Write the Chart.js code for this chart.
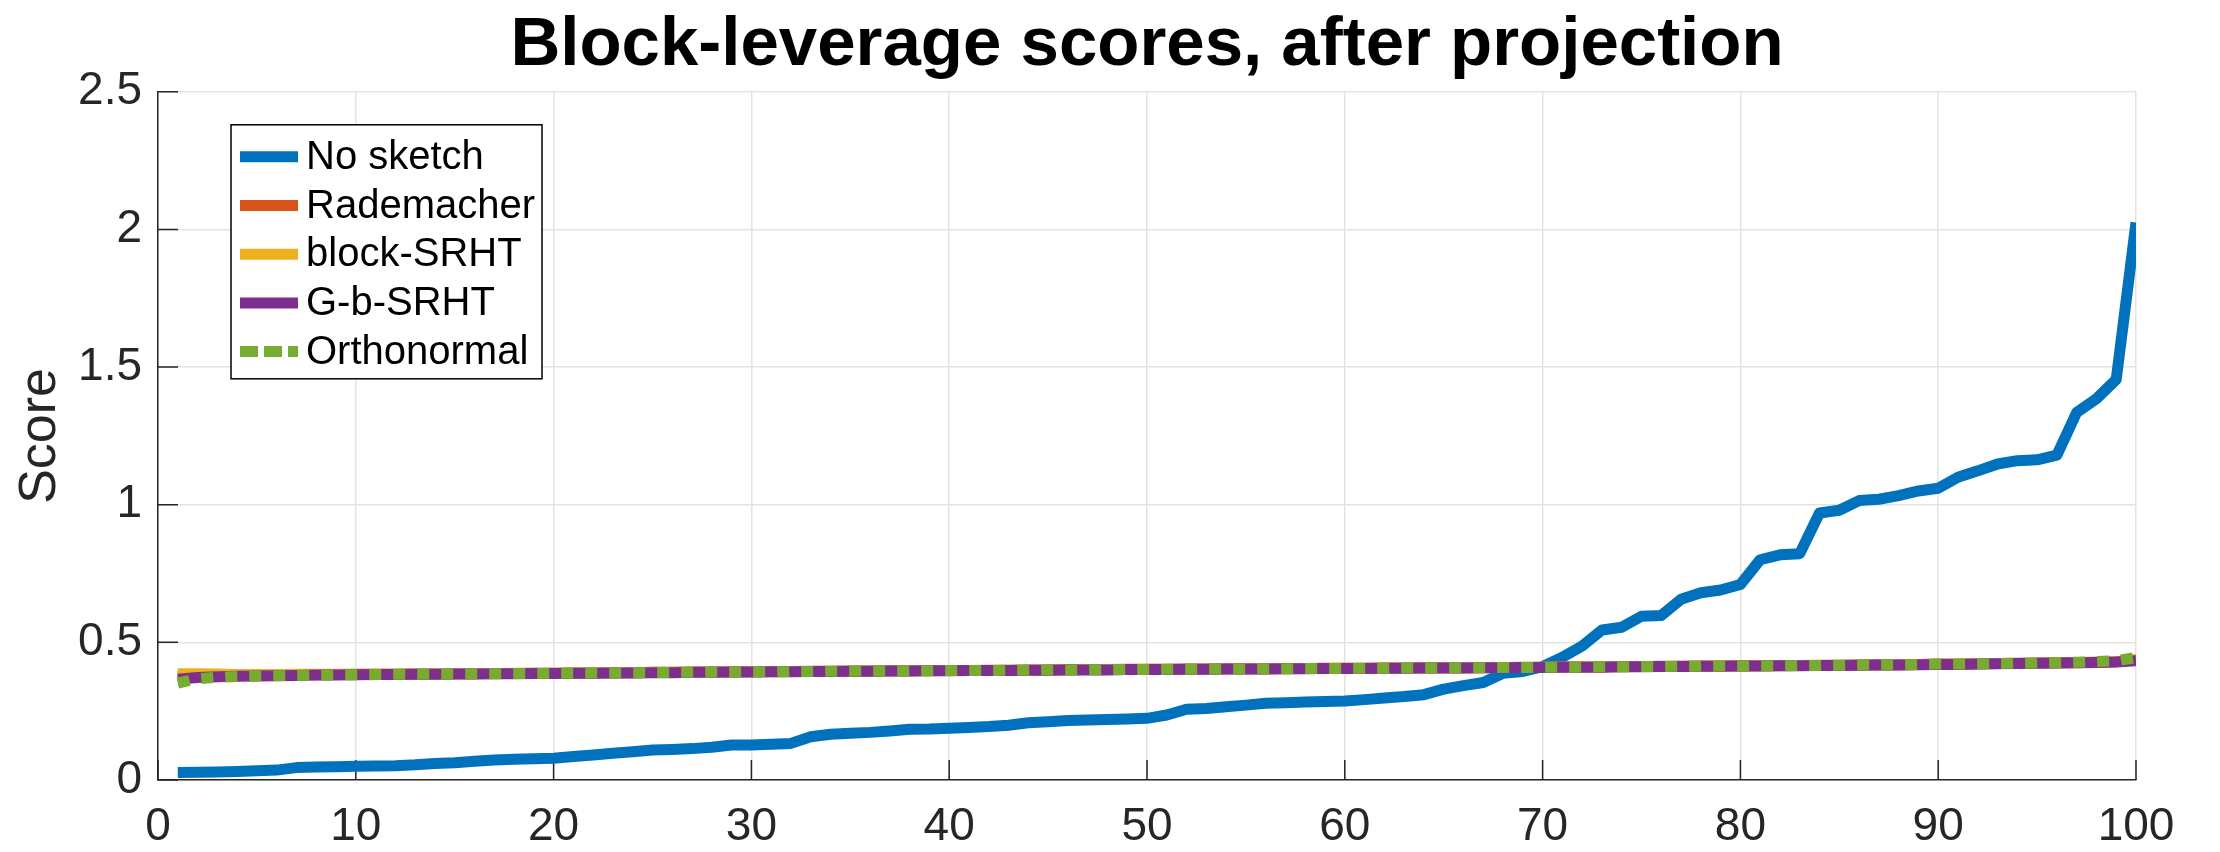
<!DOCTYPE html>
<html>
<head>
<meta charset="utf-8">
<script src="https://cdn.jsdelivr.net/npm/chart.js@4"></script>
<style>
  html, body { margin: 0; padding: 0; background: #ffffff; }
  #c { display: block; }
</style>
</head>
<body>
<canvas id="c" width="2220" height="852"></canvas>
<script>
const titleText = "Block-leverage scores, after projection";
const yAxisLabel = "Score";
const seriesNames = ["No sketch", "Rademacher", "block-SRHT", "G-b-SRHT", "Orthonormal"];
const seriesColors = ["#0072BD", "#D95319", "#EDB120", "#7E2F8E", "#77AC30"];

const blockIndex = [
  1,2,3,4,5,6,7,8,9,10,
  11,12,13,14,15,16,17,18,19,20,
  21,22,23,24,25,26,27,28,29,30,
  31,32,33,34,35,36,37,38,39,40,
  41,42,43,44,45,46,47,48,49,50,
  51,52,53,54,55,56,57,58,59,60,
  61,62,63,64,65,66,67,68,69,70,
  71,72,73,74,75,76,77,78,79,80,
  81,82,83,84,85,86,87,88,89,90,
  91,92,93,94,95,96,97,98,99,100
];

const xTicks = [0,10,20,30,40,50,60,70,80,90,100];
const yTicks = [0,0.5,1,1.5,2,2.5];

const noSketch = [
  0.027,0.028,0.029,0.031,0.034,0.036,0.045,0.047,0.048,0.050,
  0.051,0.052,0.055,0.060,0.063,0.068,0.073,0.075,0.077,0.079,
  0.085,0.091,0.097,0.103,0.109,0.111,0.114,0.119,0.127,0.127,
  0.130,0.133,0.157,0.166,0.170,0.173,0.178,0.184,0.185,0.188,
  0.191,0.194,0.199,0.208,0.212,0.216,0.218,0.220,0.222,0.224,
  0.236,0.257,0.260,0.266,0.272,0.279,0.281,0.283,0.285,0.287,
  0.292,0.298,0.303,0.310,0.330,0.343,0.354,0.388,0.394,0.412,
  0.446,0.487,0.545,0.555,0.595,0.598,0.657,0.680,0.690,0.710,
  0.800,0.818,0.822,0.970,0.980,1.015,1.020,1.033,1.050,1.060,
  1.100,1.123,1.148,1.160,1.163,1.180,1.335,1.385,1.455,2.025
];

const rademacher = [
  0.376,0.378,0.379,0.380,0.381,0.381,0.382,0.382,0.383,0.383,
  0.384,0.384,0.385,0.385,0.386,0.386,0.387,0.387,0.388,0.388,
  0.389,0.389,0.390,0.390,0.391,0.391,0.392,0.392,0.393,0.393,
  0.394,0.394,0.395,0.395,0.396,0.396,0.397,0.397,0.398,0.398,
  0.398,0.399,0.399,0.400,0.400,0.401,0.401,0.401,0.402,0.402,
  0.402,0.403,0.403,0.404,0.404,0.404,0.405,0.405,0.406,0.406,
  0.406,0.407,0.407,0.408,0.408,0.408,0.409,0.409,0.410,0.410,
  0.411,0.411,0.411,0.412,0.412,0.413,0.413,0.414,0.414,0.415,
  0.415,0.416,0.416,0.417,0.417,0.418,0.419,0.419,0.420,0.421,
  0.421,0.422,0.423,0.424,0.425,0.426,0.427,0.428,0.430,0.436
];

const blockSRHT = [
  0.386,0.386,0.385,0.383,0.383,0.383,0.384,0.384,0.384,0.385,
  0.385,0.385,0.386,0.386,0.386,0.387,0.387,0.388,0.388,0.388,
  0.389,0.389,0.390,0.390,0.391,0.391,0.391,0.392,0.392,0.393,
  0.393,0.394,0.394,0.395,0.395,0.396,0.396,0.397,0.397,0.398,
  0.398,0.398,0.399,0.399,0.400,0.400,0.401,0.401,0.401,0.402,
  0.402,0.402,0.403,0.403,0.404,0.404,0.404,0.405,0.405,0.406,
  0.406,0.406,0.407,0.407,0.408,0.408,0.408,0.409,0.409,0.410,
  0.410,0.411,0.411,0.411,0.412,0.412,0.413,0.413,0.414,0.414,
  0.415,0.415,0.416,0.416,0.417,0.418,0.418,0.419,0.420,0.420,
  0.421,0.422,0.423,0.423,0.424,0.425,0.426,0.428,0.430,0.438
];

const gbSRHT = [
  0.366,0.372,0.375,0.377,0.378,0.379,0.380,0.381,0.381,0.382,
  0.383,0.383,0.384,0.384,0.385,0.385,0.386,0.386,0.387,0.387,
  0.388,0.388,0.389,0.389,0.390,0.390,0.391,0.391,0.392,0.392,
  0.393,0.393,0.394,0.394,0.395,0.395,0.396,0.396,0.397,0.397,
  0.398,0.398,0.398,0.399,0.399,0.400,0.400,0.400,0.401,0.401,
  0.401,0.402,0.402,0.403,0.403,0.403,0.404,0.404,0.405,0.405,
  0.405,0.406,0.406,0.407,0.407,0.407,0.408,0.408,0.409,0.409,
  0.410,0.410,0.410,0.411,0.411,0.412,0.412,0.413,0.413,0.414,
  0.414,0.415,0.415,0.416,0.416,0.417,0.418,0.418,0.419,0.420,
  0.420,0.421,0.422,0.423,0.424,0.425,0.426,0.427,0.429,0.433
];

const orthonormal = [
  0.352,0.368,0.373,0.376,0.378,0.379,0.380,0.381,0.382,0.382,
  0.383,0.384,0.384,0.385,0.385,0.386,0.386,0.387,0.387,0.388,
  0.388,0.389,0.389,0.390,0.390,0.391,0.391,0.392,0.392,0.393,
  0.393,0.394,0.394,0.395,0.395,0.396,0.396,0.397,0.397,0.398,
  0.398,0.398,0.399,0.399,0.400,0.400,0.400,0.401,0.401,0.401,
  0.402,0.402,0.403,0.403,0.403,0.404,0.404,0.405,0.405,0.405,
  0.406,0.406,0.407,0.407,0.407,0.408,0.408,0.409,0.409,0.409,
  0.410,0.410,0.411,0.411,0.412,0.412,0.413,0.413,0.414,0.414,
  0.415,0.415,0.416,0.416,0.417,0.418,0.418,0.419,0.420,0.421,
  0.421,0.422,0.423,0.424,0.425,0.427,0.428,0.430,0.433,0.445
];

const FONT = "'Liberation Sans', Arial, Helvetica, sans-serif";
const AXIS_COLOR = "#262626";
const GRID_COLOR = "#e3e3e3";

function toPoints(vals) {
  return vals.map((v, i) => ({ x: blockIndex[i], y: v }));
}

const allSeries = [noSketch, rademacher, blockSRHT, gbSRHT, orthonormal];
const drawOrder = [5, 4, 3, 2, 1];

const datasets = allSeries.map((vals, k) => ({
  label: seriesNames[k],
  data: toPoints(vals),
  borderColor: seriesColors[k],
  backgroundColor: seriesColors[k],
  borderWidth: 11,
  pointRadius: 0,
  pointHoverRadius: 0,
  tension: 0,
  fill: false,
  order: drawOrder[k],
  borderDash: k === 4 ? [12, 12] : [],
  borderCapStyle: 'butt',
  borderJoinStyle: k === 4 ? 'miter' : 'round'
}));

const innerTicks = {
  id: 'innerTicks',
  beforeDatasetsDraw(chart) {
    const { ctx, chartArea } = chart;
    const xs = chart.scales.x, ys = chart.scales.y;
    ctx.save();
    ctx.strokeStyle = AXIS_COLOR;
    ctx.lineWidth = 1.5;
    ctx.beginPath();
    xTicks.forEach(t => {
      const px = xs.getPixelForValue(t);
      ctx.moveTo(px, chartArea.bottom);
      ctx.lineTo(px, chartArea.bottom - 20);
    });
    yTicks.forEach(t => {
      const py = ys.getPixelForValue(t);
      ctx.moveTo(chartArea.left, py);
      ctx.lineTo(chartArea.left + 20, py);
    });
    ctx.stroke();
    ctx.restore();
  }
};

const boxLegend = {
  id: 'boxLegend',
  afterDraw(chart) {
    const { ctx, chartArea } = chart;
    const bx = chartArea.left + 73, by = chartArea.top + 33;
    const bw = 311, bh = 254;
    ctx.save();
    ctx.fillStyle = '#ffffff';
    ctx.fillRect(bx, by, bw, bh);
    ctx.strokeStyle = '#000000';
    ctx.lineWidth = 1.5;
    ctx.strokeRect(bx, by, bw, bh);
    ctx.font = "40px " + FONT;
    ctx.textBaseline = 'middle';
    ctx.textAlign = 'left';
    chart.data.datasets.forEach((ds, i) => {
      const y = by + 32 + i * 48.7;
      ctx.beginPath();
      ctx.strokeStyle = ds.borderColor;
      ctx.lineWidth = ds.borderWidth;
      ctx.lineCap = 'butt';
      ctx.setLineDash(ds.borderDash && ds.borderDash.length ? [18, 6] : []);
      ctx.moveTo(bx + 9, y);
      ctx.lineTo(bx + 67, y);
      ctx.stroke();
      ctx.setLineDash([]);
      ctx.fillStyle = '#000000';
      ctx.fillText(ds.label, bx + 75, y + 1);
    });
    ctx.restore();
  }
};

new Chart(document.getElementById('c'), {
  type: 'line',
  data: { datasets },
  options: {
    responsive: false,
    devicePixelRatio: 1,
    animation: false,
    layout: { padding: { left: 0, right: 84, top: 0, bottom: 0 } },
    plugins: {
      legend: { display: false },
      tooltip: { enabled: false },
      title: {
        display: true,
        fullSize: false,
        text: titleText,
        color: '#000000',
        font: { family: FONT, size: 69, weight: 'bold', lineHeight: 1.2 },
        padding: { top: 5, bottom: 4 }
      }
    },
    scales: {
      x: {
        type: 'linear',
        min: 0,
        max: 100,
        afterBuildTicks(scale) { scale.ticks = xTicks.map(v => ({ value: v })); },
        afterFit(scale) { scale.height = 72; },
        ticks: {
          color: AXIS_COLOR,
          font: { family: FONT, size: 46 },
          padding: 20,
          maxRotation: 0,
          autoSkip: false
        },
        grid: { color: GRID_COLOR, lineWidth: 1.5, drawTicks: false },
        border: { display: true, color: AXIS_COLOR, width: 1.5 }
      },
      y: {
        type: 'linear',
        min: 0,
        max: 2.5,
        afterBuildTicks(scale) { scale.ticks = yTicks.map(v => ({ value: v })); },
        afterFit(scale) { scale.width = 158; },
        ticks: {
          color: AXIS_COLOR,
          font: { family: FONT, size: 46 },
          padding: 16,
          callback: (v) => String(v)
        },
        grid: { color: GRID_COLOR, lineWidth: 1.5, drawTicks: false },
        border: { display: true, color: AXIS_COLOR, width: 1.5 },
        title: {
          display: true,
          text: yAxisLabel,
          color: AXIS_COLOR,
          font: { family: FONT, size: 52, lineHeight: 1.2 },
          padding: { top: 9, bottom: 0 }
        }
      }
    }
  },
  plugins: [innerTicks, boxLegend]
});
</script>
</body>
</html>
